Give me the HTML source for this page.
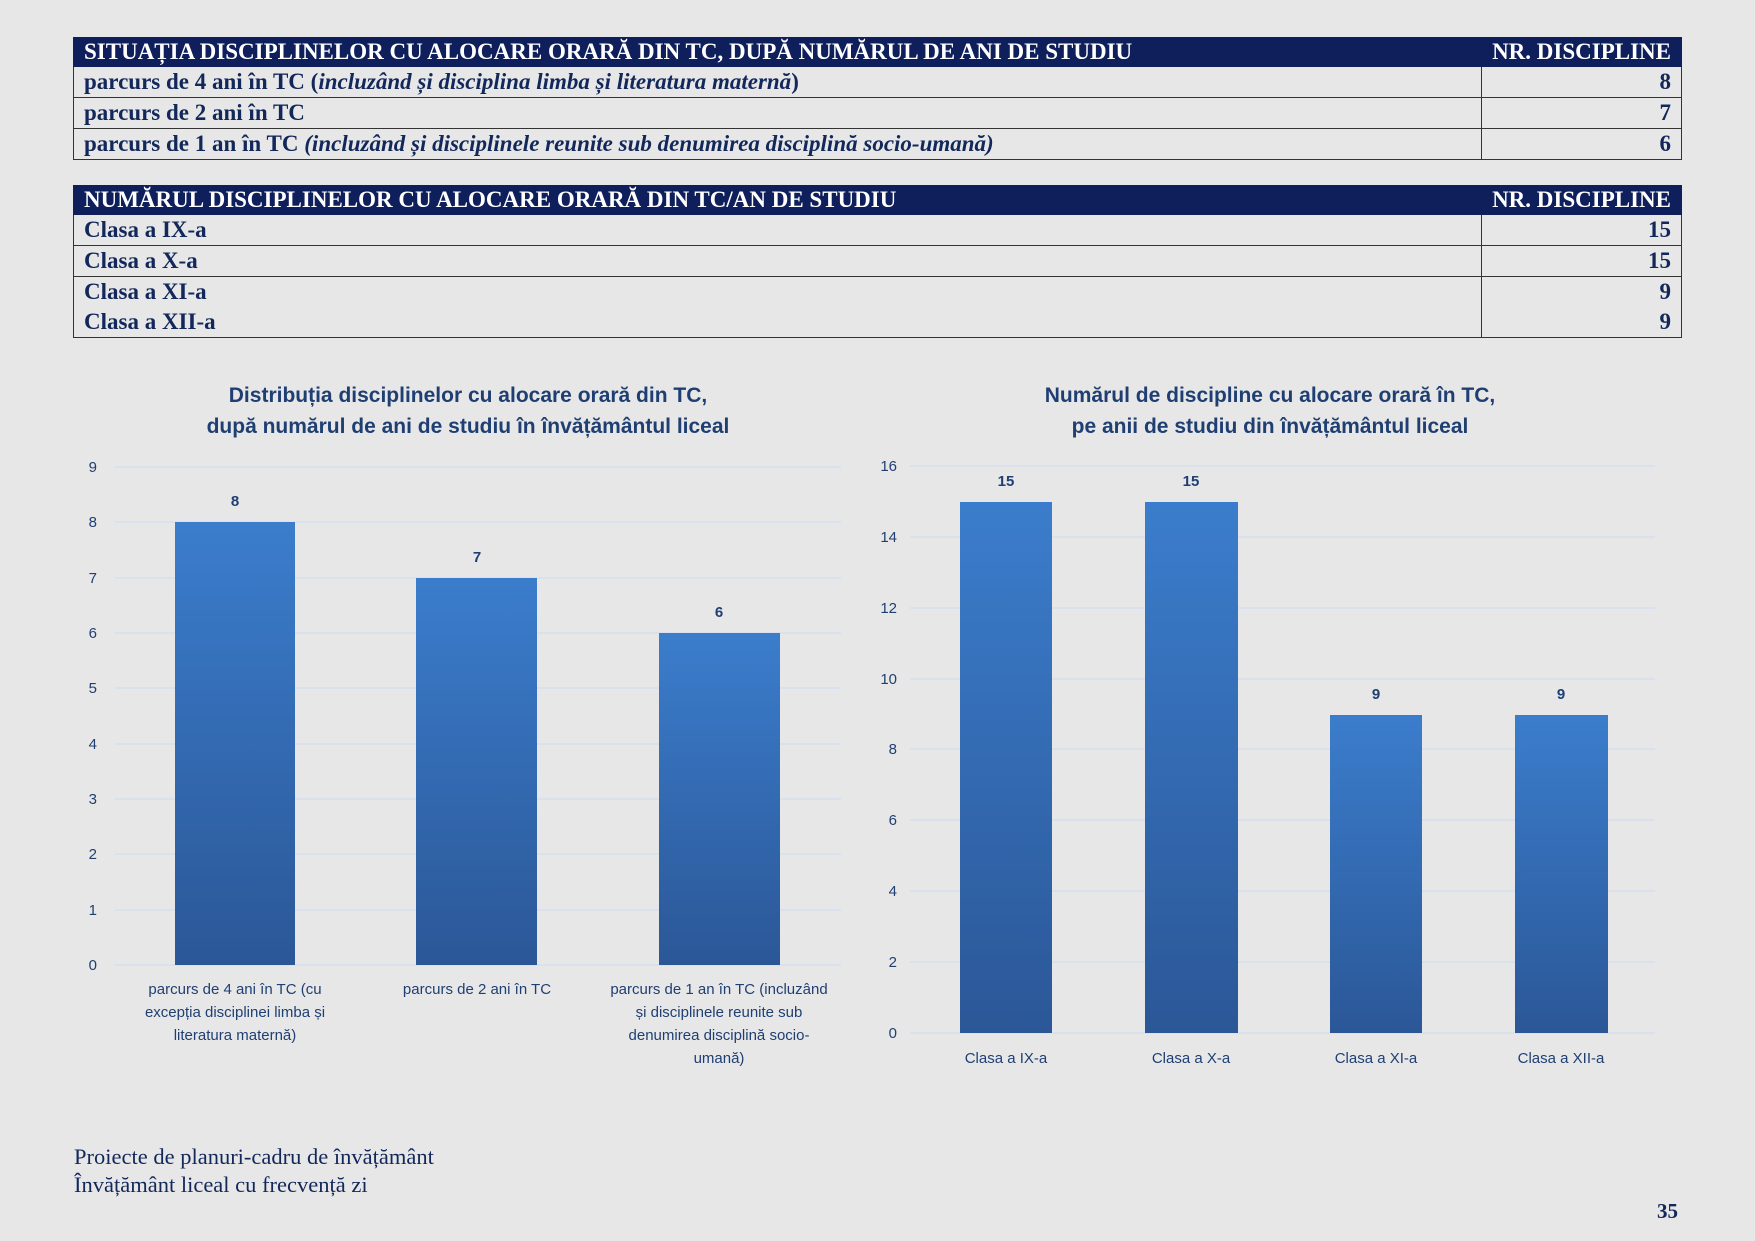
<!DOCTYPE html>
<html><head><meta charset="utf-8"><style>
body{margin:0;width:1755px;height:1241px;background:#e7e7e7;position:relative;overflow:hidden;font-family:"Liberation Serif",serif;color:#12275a}
table{position:absolute;left:73px;width:1609px;border-collapse:collapse;font-weight:bold;font-size:23px}
td{border:1.5px solid #333;padding:0 10px;height:30px;line-height:30px;white-space:nowrap}
td.n{text-align:right;width:178px}
tr.h td{background:#0e1f5b;color:#fff;border-color:#0e1f5b;height:28px;line-height:28px}
i{font-style:italic}
.ft{position:absolute;left:74px;font-size:22.5px;color:#12275a}
</style></head><body>
<table style="top:37px">
<tr class="h"><td>SITUAȚIA DISCIPLINELOR CU ALOCARE ORARĂ DIN TC, DUPĂ NUMĂRUL DE ANI DE STUDIU</td><td class="n">NR. DISCIPLINE</td></tr>
<tr><td>parcurs de 4 ani în TC (<i>incluzând și disciplina limba și literatura maternă</i>)</td><td class="n">8</td></tr>
<tr><td>parcurs de 2 ani în TC</td><td class="n">7</td></tr>
<tr><td>parcurs de 1 an în TC <i>(incluzând și disciplinele reunite sub denumirea disciplină socio-umană)</i></td><td class="n">6</td></tr>
</table>
<table style="top:185px">
<tr class="h"><td>NUMĂRUL DISCIPLINELOR CU ALOCARE ORARĂ DIN TC/AN DE STUDIU</td><td class="n">NR. DISCIPLINE</td></tr>
<tr><td>Clasa a IX-a</td><td class="n">15</td></tr>
<tr><td>Clasa a X-a</td><td class="n">15</td></tr>
<tr><td style="border-bottom:none">Clasa a XI-a</td><td class="n" style="border-bottom:none">9</td></tr>
<tr><td style="border-top:none">Clasa a XII-a</td><td class="n" style="border-top:none">9</td></tr>
</table>
<svg width="1755" height="1241" style="position:absolute;left:0;top:0" font-family="Liberation Sans, sans-serif">
<defs><linearGradient id="g" x1="0" y1="0" x2="0" y2="1"><stop offset="0" stop-color="#3b7dcc"/><stop offset="1" stop-color="#2b5797"/></linearGradient></defs>
<g fill="#1f3f73" font-weight="bold" font-size="21" text-anchor="middle">
<text x="468" y="402">Distribuția disciplinelor cu alocare orară din TC,</text>
<text x="468" y="433">după numărul de ani de studiu în învățământul liceal</text>
<text x="1270" y="402">Numărul de discipline cu alocare orară în TC,</text>
<text x="1270" y="433">pe anii de studiu din învățământul liceal</text>
</g>
<g stroke="#d4dfee" stroke-width="1.5">
<line x1="115" x2="841" y1="467" y2="467"/><line x1="115" x2="841" y1="522" y2="522"/><line x1="115" x2="841" y1="578" y2="578"/><line x1="115" x2="841" y1="633" y2="633"/><line x1="115" x2="841" y1="688" y2="688"/><line x1="115" x2="841" y1="744" y2="744"/><line x1="115" x2="841" y1="799" y2="799"/><line x1="115" x2="841" y1="854" y2="854"/><line x1="115" x2="841" y1="910" y2="910"/><line x1="115" x2="841" y1="965" y2="965"/>
<line x1="910" x2="1655" y1="466" y2="466"/><line x1="910" x2="1655" y1="537" y2="537"/><line x1="910" x2="1655" y1="608" y2="608"/><line x1="910" x2="1655" y1="679" y2="679"/><line x1="910" x2="1655" y1="749" y2="749"/><line x1="910" x2="1655" y1="820" y2="820"/><line x1="910" x2="1655" y1="891" y2="891"/><line x1="910" x2="1655" y1="962" y2="962"/><line x1="910" x2="1655" y1="1033" y2="1033"/>
</g>
<g fill="#1f3f73" font-size="15" text-anchor="end">
<text x="97" y="472">9</text><text x="97" y="527">8</text><text x="97" y="583">7</text><text x="97" y="638">6</text><text x="97" y="693">5</text><text x="97" y="749">4</text><text x="97" y="804">3</text><text x="97" y="859">2</text><text x="97" y="915">1</text><text x="97" y="970">0</text>
<text x="897" y="471">16</text><text x="897" y="542">14</text><text x="897" y="613">12</text><text x="897" y="684">10</text><text x="897" y="754">8</text><text x="897" y="825">6</text><text x="897" y="896">4</text><text x="897" y="967">2</text><text x="897" y="1038">0</text>
</g>
<g fill="url(#g)">
<rect x="175" y="522" width="120" height="443"/><rect x="416" y="578" width="121" height="387"/><rect x="659" y="633" width="121" height="332"/>
<rect x="960" y="502" width="92" height="531"/><rect x="1145" y="502" width="93" height="531"/><rect x="1330" y="715" width="92" height="318"/><rect x="1515" y="715" width="93" height="318"/>
</g>
<g fill="#1f3f73" font-size="15" font-weight="bold" text-anchor="middle">
<text x="235" y="506">8</text><text x="477" y="562">7</text><text x="719" y="617">6</text>
<text x="1006" y="486">15</text><text x="1191" y="486">15</text><text x="1376" y="699">9</text><text x="1561" y="699">9</text>
</g>
<g fill="#1f3f73" font-size="15" text-anchor="middle">
<text x="235" y="994">parcurs de 4 ani în TC (cu</text><text x="235" y="1017">excepția disciplinei limba și</text><text x="235" y="1040">literatura maternă)</text>
<text x="477" y="994">parcurs de 2 ani în TC</text>
<text x="719" y="994">parcurs de 1 an în TC (incluzând</text><text x="719" y="1017">și disciplinele reunite sub</text><text x="719" y="1040">denumirea disciplină socio-</text><text x="719" y="1063">umană)</text>
<text x="1006" y="1063">Clasa a IX-a</text><text x="1191" y="1063">Clasa a X-a</text><text x="1376" y="1063">Clasa a XI-a</text><text x="1561" y="1063">Clasa a XII-a</text>
</g>
</svg>
<div class="ft" style="top:1144px">Proiecte de planuri-cadru de învățământ</div>
<div class="ft" style="top:1172px">Învățământ liceal cu frecvență zi</div>
<div style="position:absolute;left:1657px;top:1199px;font-weight:bold;font-size:21px">35</div>
</body></html>
